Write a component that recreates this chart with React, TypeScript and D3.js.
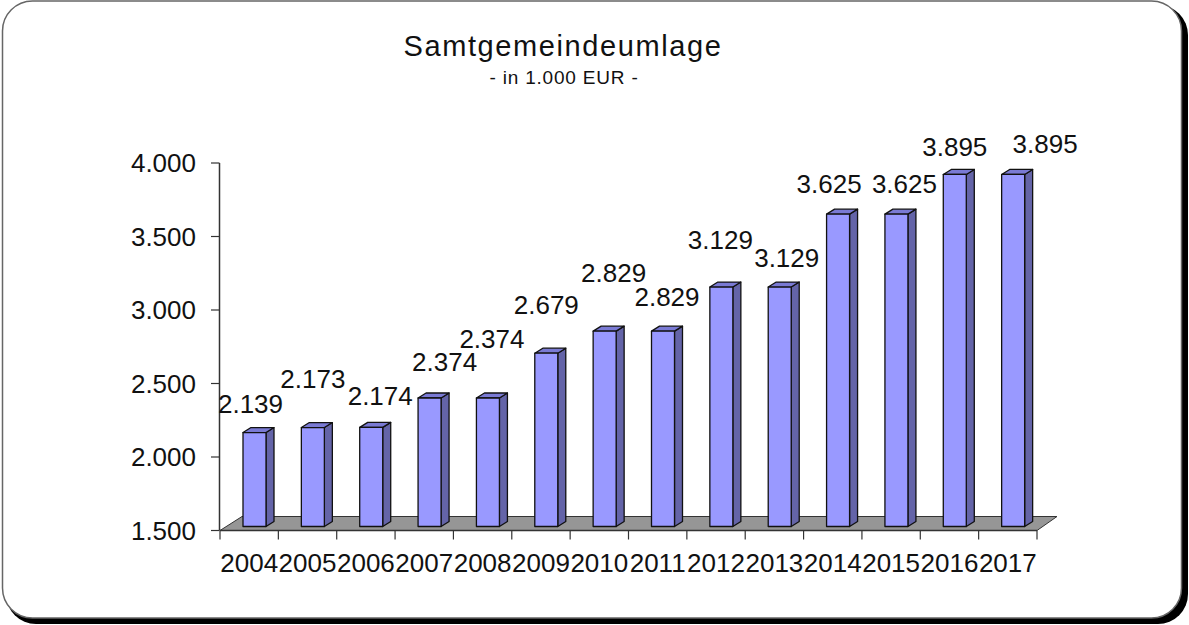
import React from "react";
import * as d3 from "d3";

// data
const years = ["2004", "2005", "2006", "2007", "2008", "2009", "2010", "2011", "2012", "2013", "2014", "2015", "2016", "2017"];
const umlage = [2139, 2173, 2174, 2374, 2374, 2679, 2829, 2829, 3129, 3129, 3625, 3625, 3895, 3895];
const yTicks = [1500, 2000, 2500, 3000, 3500, 4000];

// label nudges (dx, dy) relative to the bar's top, the original places them unevenly
const labelShift = [
  [-4, -20], [0, -40], [9, -22], [15, -27], [4, -50], [0, -39], [9, -49],
  [4, -25], [-1, -38], [7, -20], [-9, -21], [8, -21], [0, -18], [32, -21],
];

const W = 1189;
const H = 625;
const depthX = 8;
const depthY = 5;

const de = d3.formatLocale({ decimal: ",", thousands: ".", grouping: [3], currency: ["", " €"] });
const fmt = de.format(",.0f");

export default function App() {
  const x = d3.scaleBand().domain(years).range([220, 1037]).padding(0);
  const y = d3.scaleLinear().domain([1500, 4000]).range([530.5, 163]);
  const base = y(1500);
  const barW = 23;
  const font = "Arial, 'Liberation Sans', sans-serif";

  // floor of the 3d plot
  const floor = [
    [x.range()[0], base],
    [x.range()[0] + 22, base - 14],
    [x.range()[1] + 20, base - 14],
    [x.range()[1], base],
  ];

  return (
    <svg width={W} height={H} style={{ position: "absolute", left: 0, top: 0 }} fontFamily={font}>
      {/* frame with shadow */}
      <rect x={6} y={5} width={1182} height={619} rx={30} fill="#000" />
      <rect x={2.5} y={1} width={1179} height={617} rx={30} fill="#fff" stroke="#666" strokeWidth={1.5} />

      <text x={563} y={56} textAnchor="middle" fontSize={29} letterSpacing={1.6} fill="#111">
        Samtgemeindeumlage
      </text>
      <text x={564} y={84} textAnchor="middle" fontSize={19} letterSpacing={0.8} fill="#111">
        - in 1.000 EUR -
      </text>

      <polygon points={floor.map((p) => p.join(",")).join(" ")} fill="#969696" stroke="#333" strokeWidth={1} />

      {/* y axis */}
      <line x1={219.5} x2={219.5} y1={y(4000)} y2={base} stroke="#333" strokeWidth={1.5} />
      {yTicks.map((t) => (
        <g key={t}>
          <line x1={211} x2={219.5} y1={y(t)} y2={y(t)} stroke="#333" strokeWidth={1.2} />
          <text x={196} y={y(t) + 9} textAnchor="end" fontSize={26} fill="#111">
            {fmt(t)}
          </text>
        </g>
      ))}

      {/* x axis */}
      <line x1={x.range()[0]} x2={x.range()[1]} y1={base} y2={base} stroke="#333" strokeWidth={1.5} />
      {years.concat(["end"]).map((yr, i) => {
        const tx = x.range()[0] + i * x.step();
        return <line key={yr} x1={tx} x2={tx} y1={base} y2={base + 9} stroke="#333" strokeWidth={1.2} />;
      })}
      {years.map((yr) => (
        <text key={yr} x={(x(yr) as number) + x.bandwidth() / 2} y={572} textAnchor="middle" fontSize={26} fill="#111">
          {yr}
        </text>
      ))}

      {/* bars */}
      {umlage.map((v, i) => {
        const bx = (x(years[i]) as number) + 23;
        const top = y(v) - 4;
        const bot = base - 4;
        const side = [
          [bx + barW, top], [bx + barW + depthX, top - depthY],
          [bx + barW + depthX, bot - depthY], [bx + barW, bot],
        ];
        const cap = [
          [bx, top], [bx + depthX, top - depthY],
          [bx + barW + depthX, top - depthY], [bx + barW, top],
        ];
        return (
          <g key={years[i]} stroke="#111" strokeWidth={1.3} strokeLinejoin="round">
            <polygon points={side.map((p) => p.join(",")).join(" ")} fill="#6464a8" />
            <polygon points={cap.map((p) => p.join(",")).join(" ")} fill="#7a7ad4" />
            <rect x={bx} y={top} width={barW} height={bot - top} fill="#9999ff" />
          </g>
        );
      })}

      {/* value labels */}
      {umlage.map((v, i) => {
        const cx = (x(years[i]) as number) + 23 + barW / 2;
        const top = y(v) - 4;
        return (
          <text key={"l" + i} x={cx + labelShift[i][0]} y={top + labelShift[i][1]} textAnchor="middle" fontSize={26} fill="#111">
            {fmt(v)}
          </text>
        );
      })}
    </svg>
  );
}
